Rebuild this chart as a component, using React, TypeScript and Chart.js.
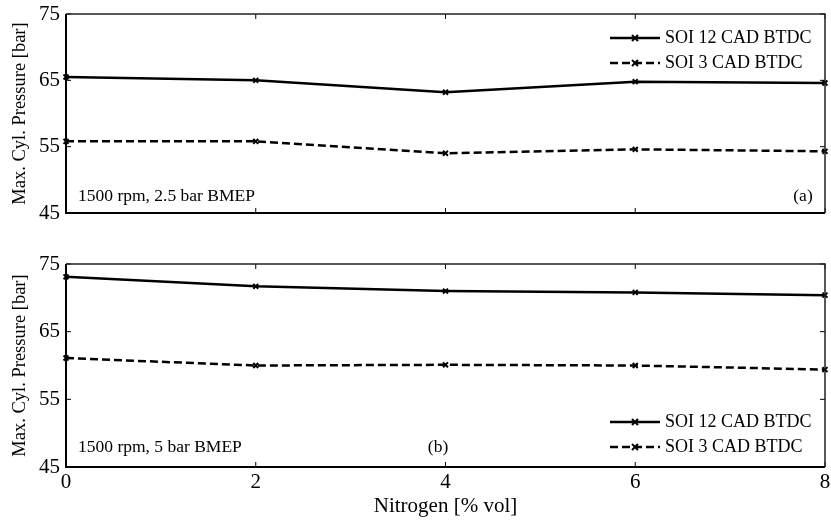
import React, { useEffect, useRef } from 'react';
import { Chart, registerables } from 'chart.js';
Chart.register(...registerables);

const nitrogen = [0, 2, 4, 6, 8];
const topSoi12 = [65.5, 65.0, 63.2, 64.8, 64.6];
const topSoi3 = [55.8, 55.8, 54.0, 54.6, 54.3];
const botSoi12 = [73.1, 71.7, 71.0, 70.8, 70.4];
const botSoi3 = [61.1, 60.0, 60.1, 60.0, 59.4];
const yTicks = [45, 55, 65, 75];
const xTicks = [0, 2, 4, 6, 8];
const seriesLabels = ['SOI 12 CAD BTDC', 'SOI 3 CAD BTDC'];
const yTitle = 'Max. Cyl. Pressure [bar]';
const xTitle = 'Nitrogen [% vol]';

const FONT = '"Liberation Serif", "Times New Roman", serif';
const DASH = [8, 4];

const framePlugin = {
  id: 'frameTicks',
  afterDatasetsDraw(chart: any, _args: any, opts: any) {
    const { ctx, chartArea: a, scales } = chart;
    const xs = scales.x, ys = scales.y;
    ctx.save();
    // inward ticks
    ctx.strokeStyle = '#000';
    ctx.lineWidth = 1;
    const tl = 5;
    xTicks.forEach((v) => {
      const px = xs.getPixelForValue(v);
      ctx.beginPath();
      ctx.moveTo(px, a.top); ctx.lineTo(px, a.top + tl);
      ctx.moveTo(px, a.bottom); ctx.lineTo(px, a.bottom - tl);
      ctx.stroke();
    });
    yTicks.forEach((v) => {
      const py = ys.getPixelForValue(v);
      ctx.beginPath();
      ctx.moveTo(a.left, py); ctx.lineTo(a.left + tl, py);
      ctx.moveTo(a.right, py); ctx.lineTo(a.right - tl, py);
      ctx.stroke();
    });
    // frame
    ctx.strokeStyle = '#222';
    ctx.lineWidth = 1.5;
    ctx.beginPath();
    ctx.moveTo(a.left, a.top); ctx.lineTo(a.right, a.top); ctx.lineTo(a.right, a.bottom);
    ctx.stroke();
    ctx.strokeStyle = '#000';
    ctx.lineWidth = 2;
    ctx.beginPath();
    ctx.moveTo(a.left, a.top); ctx.lineTo(a.left, a.bottom); ctx.lineTo(a.right, a.bottom);
    ctx.stroke();

    // legend
    const rows: number[] = opts.legendRows;
    rows.forEach((ry, i) => {
      const y = ry < 0 ? a.bottom + ry : a.top + ry;
      const x0 = a.right - 215, x1 = a.right - 165;
      ctx.strokeStyle = '#000';
      ctx.lineWidth = 2.5;
      ctx.setLineDash(i === 0 ? [] : DASH);
      ctx.beginPath(); ctx.moveTo(x0, y); ctx.lineTo(x1, y); ctx.stroke();
      ctx.setLineDash([]);
      ctx.lineWidth = 2;
      const mx = (x0 + x1) / 2, r = 3;
      ctx.beginPath();
      ctx.moveTo(mx - r, y - r); ctx.lineTo(mx + r, y + r);
      ctx.moveTo(mx - r, y + r); ctx.lineTo(mx + r, y - r);
      ctx.stroke();
      ctx.fillStyle = '#000';
      ctx.font = '18px ' + FONT;
      ctx.textBaseline = 'middle';
      ctx.textAlign = 'left';
      ctx.fillText(seriesLabels[i], a.right - 160, y);
    });

    // annotations
    ctx.fillStyle = '#000';
    ctx.font = '17.5px ' + FONT;
    ctx.textBaseline = 'middle';
    ctx.textAlign = 'left';
    ctx.fillText(opts.note, a.left + 12, a.bottom - opts.noteDy);
    ctx.textAlign = 'center';
    ctx.fillText(opts.tag, opts.tagX, a.bottom - opts.noteDy);
    ctx.restore();
  },
};

function makeChart(canvas: HTMLCanvasElement, s12: number[], s3: number[], bottom: boolean, pluginOpts: any) {
  const ds = (label: string, data: number[], dashed: boolean) => ({
    label,
    data: nitrogen.map((x, i) => ({ x, y: data[i] })),
    borderColor: '#000',
    backgroundColor: '#000',
    borderWidth: 2.5,
    borderDash: dashed ? DASH : [],
    pointStyle: 'crossRot',
    pointRadius: 3.5,
    pointBorderWidth: 2,
    pointBorderColor: '#000',
    tension: 0,
    clip: false as any,
  });
  return new Chart(canvas, {
    type: 'line',
    data: { datasets: [ds(seriesLabels[0], s12, false), ds(seriesLabels[1], s3, true)] },
    plugins: [framePlugin],
    options: {
      responsive: false,
      animation: false,
      layout: { padding: bottom ? { left: 0, right: 3, top: 24, bottom: 0 } : { left: 0, right: 3, top: 14, bottom: 27 } },
      plugins: {
        legend: { display: false },
        tooltip: { enabled: false },
        frameTicks: pluginOpts,
      } as any,
      scales: {
        x: {
          type: 'linear',
          min: 0,
          max: 8,
          display: bottom,
          grid: { display: false, drawTicks: false },
          border: { display: false },
          afterBuildTicks: (s: any) => { s.ticks = xTicks.map((v) => ({ value: v })); },
          afterFit: (s: any) => { s.height = bottom ? 55 : 0; s.paddingLeft = 0; s.paddingRight = 0; },
          ticks: { color: '#000', font: { family: FONT, size: 21 }, padding: 3, maxRotation: 0 },
          title: { display: true, text: xTitle, color: '#000', font: { family: FONT, size: 21 }, padding: { top: 0, bottom: 3 } },
        },
        y: {
          type: 'linear',
          min: 45,
          max: 75,
          grid: { display: false, drawTicks: false },
          border: { display: false },
          afterBuildTicks: (s: any) => { s.ticks = yTicks.map((v) => ({ value: v })); },
          afterFit: (s: any) => { s.width = 66; s.paddingTop = 0; s.paddingBottom = 0; },
          ticks: { color: '#000', font: { family: FONT, size: 21 }, padding: 6 },
          title: { display: true, text: yTitle, color: '#000', font: { family: FONT, size: 18.5 }, padding: { top: 9, bottom: 0 } },
        },
      },
    } as any,
  });
}

export default function App() {
  const topRef = useRef<HTMLCanvasElement>(null);
  const botRef = useRef<HTMLCanvasElement>(null);
  useEffect(() => {
    const c1 = makeChart(topRef.current!, topSoi12, topSoi3, false, {
      legendRows: [24, 49],
      note: '1500 rpm, 2.5 bar BMEP',
      tag: '(a)',
      tagX: 803,
      noteDy: 17,
    });
    const c2 = makeChart(botRef.current!, botSoi12, botSoi3, true, {
      legendRows: [-45, -20],
      note: '1500 rpm, 5 bar BMEP',
      tag: '(b)',
      tagX: 438,
      noteDy: 20,
    });
    return () => { c1.destroy(); c2.destroy(); };
  }, []);
  return (
    <div style={{ position: 'absolute', left: 0, top: 0, width: 831, height: 522, background: '#fff' }}>
      <canvas ref={topRef} width={831} height={240} style={{ display: 'block', width: 831, height: 240 }} />
      <canvas ref={botRef} width={831} height={282} style={{ display: 'block', width: 831, height: 282 }} />
    </div>
  );
}
